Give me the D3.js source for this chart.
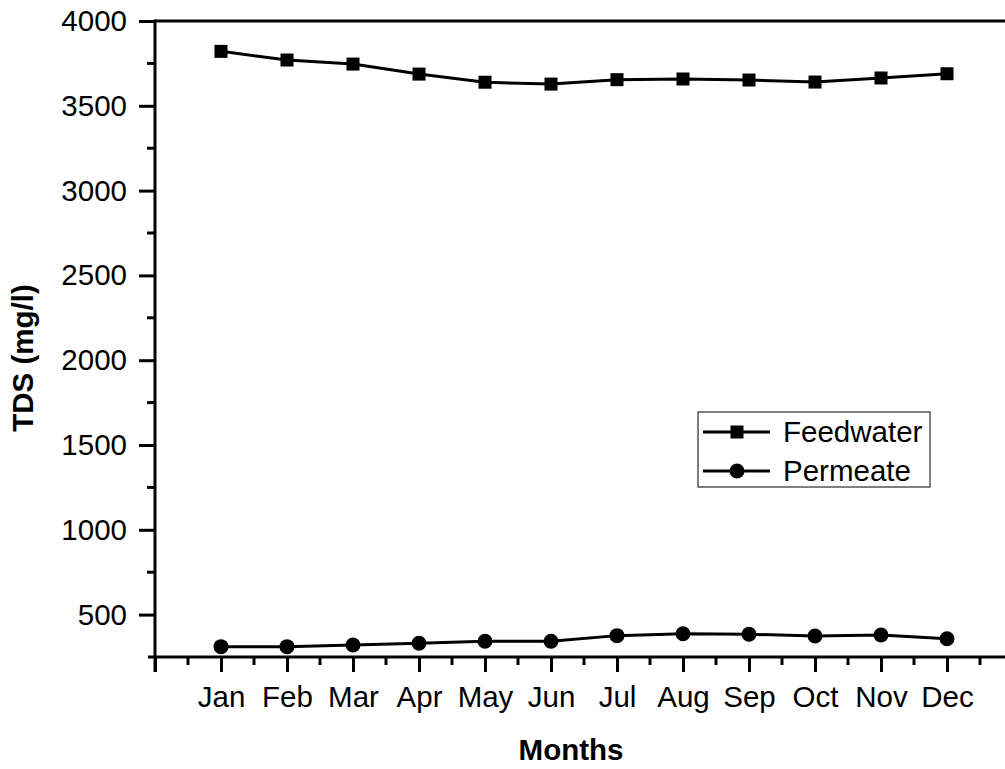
<!DOCTYPE html>
<html>
<head>
<meta charset="utf-8">
<script src="https://cdn.jsdelivr.net/npm/d3@7"></script>
<style>
  html, body { margin: 0; padding: 0; background: #fff; }
  svg { display: block; font-family: "Liberation Sans", Arial, sans-serif; }
</style>
</head>
<body>
<svg id="chart" width="1005" height="769"></svg>
<script>
const months = ["Jan","Feb","Mar","Apr","May","Jun","Jul","Aug","Sep","Oct","Nov","Dec"];
const feedwater = [3821, 3770, 3746, 3687, 3639, 3628, 3654, 3658, 3652, 3640, 3664, 3689];
const permeate  = [311, 311, 321, 331, 343, 343, 376, 387, 384, 374, 380, 358];
const yTicks = [500, 1000, 1500, 2000, 2500, 3000, 3500, 4000];
const seriesNames = ["Feedwater", "Permeate"];

(function () {
const svg = d3.select("#chart");
const pLeft = 155, pTop = 21, pBottom = 657, xRight = 1013;
const x = d3.scaleLinear().domain([0, 13]).range([pLeft, xRight]);
const y = d3.scaleLinear().domain([250, 4000]).range([pBottom, pTop]);

const fontSize = 29.5;

// top border line
svg.append("line").attr("x1", pLeft).attr("x2", 1005).attr("y1", pTop).attr("y2", pTop)
  .attr("stroke", "#000").attr("stroke-width", 3);

// Y axis
const yAxis = d3.axisLeft(y).tickValues(yTicks).tickSize(16).tickPadding(12).tickFormat(d3.format("d"));
const gy = svg.append("g").attr("transform", `translate(${pLeft},0)`).call(yAxis);
gy.select(".domain").remove();
gy.selectAll(".tick line").attr("stroke", "#000").attr("stroke-width", 3);
gy.selectAll(".tick text").attr("font-size", fontSize).attr("fill", "#000")
  .attr("font-family", "Liberation Sans, Arial, sans-serif");
const yMinor = d3.range(750, 4000, 500);
svg.append("g").selectAll("line").data(yMinor).join("line")
  .attr("x1", pLeft - 8).attr("x2", pLeft).attr("y1", d => y(d)).attr("y2", d => y(d))
  .attr("stroke", "#000").attr("stroke-width", 3);
svg.append("line").attr("x1", pLeft).attr("x2", pLeft).attr("y1", pTop - 1.5).attr("y2", pBottom + 15)
  .attr("stroke", "#000").attr("stroke-width", 3);

// X axis
const xMajor = d3.range(0, 14);
const xAxis = d3.axisBottom(x).tickValues(xMajor).tickSize(15).tickPadding(14)
  .tickFormat(d => (d >= 1 && d <= 12) ? months[d - 1] : "");
const gx = svg.append("g").attr("transform", `translate(0,${pBottom})`).call(xAxis);
gx.select(".domain").remove();
gx.selectAll(".tick line").attr("stroke", "#000").attr("stroke-width", 3);
gx.selectAll(".tick text").attr("font-size", fontSize).attr("fill", "#000")
  .attr("font-family", "Liberation Sans, Arial, sans-serif");
const xMinor = d3.range(0.5, 13, 1);
svg.append("g").selectAll("line").data(xMinor).join("line")
  .attr("x1", d => x(d)).attr("x2", d => x(d)).attr("y1", pBottom).attr("y2", pBottom + 8)
  .attr("stroke", "#000").attr("stroke-width", 3);
svg.append("line").attr("x1", pLeft - 7).attr("x2", 1005).attr("y1", pBottom).attr("y2", pBottom)
  .attr("stroke", "#000").attr("stroke-width", 3);

// Axis titles
svg.append("text").attr("x", 571).attr("y", 760).attr("text-anchor", "middle")
  .attr("font-size", fontSize).attr("font-weight", "bold").text("Months");
svg.append("text").attr("transform", "translate(33,358) rotate(-90)").attr("text-anchor", "middle")
  .attr("font-size", fontSize).attr("font-weight", "bold").text("TDS (mg/l)");

// Lines
const line = d3.line().x((d, i) => x(i + 1)).y(d => y(d));
[feedwater, permeate].forEach(s => {
  svg.append("path").datum(s).attr("d", line).attr("fill", "none")
    .attr("stroke", "#000").attr("stroke-width", 3).attr("stroke-linejoin", "round");
});
const sq = 13;
svg.append("g").selectAll("rect").data(feedwater).join("rect")
  .attr("x", (d, i) => x(i + 1) - sq / 2).attr("y", d => y(d) - sq / 2)
  .attr("width", sq).attr("height", sq).attr("fill", "#000");
svg.append("g").selectAll("circle").data(permeate).join("circle")
  .attr("cx", (d, i) => x(i + 1)).attr("cy", d => y(d)).attr("r", 7.5).attr("fill", "#000");

// Legend
const lg = svg.append("g");
lg.append("rect").attr("x", 698).attr("y", 412).attr("width", 232).attr("height", 75)
  .attr("fill", "#fff").attr("stroke", "#000").attr("stroke-width", 1);
const rows = [432, 471];
seriesNames.forEach((name, i) => {
  const ry = rows[i];
  lg.append("line").attr("x1", 703).attr("x2", 770).attr("y1", ry).attr("y2", ry)
    .attr("stroke", "#000").attr("stroke-width", 3);
  if (i === 0) {
    lg.append("rect").attr("x", 737 - sq / 2).attr("y", ry - sq / 2).attr("width", sq).attr("height", sq).attr("fill", "#000");
  } else {
    lg.append("circle").attr("cx", 737).attr("cy", ry).attr("r", 7.5).attr("fill", "#000");
  }
  lg.append("text").attr("x", 783).attr("y", ry).attr("dy", "0.35em")
    .attr("font-size", fontSize).text(name);
});
})();
</script>
</body>
</html>
